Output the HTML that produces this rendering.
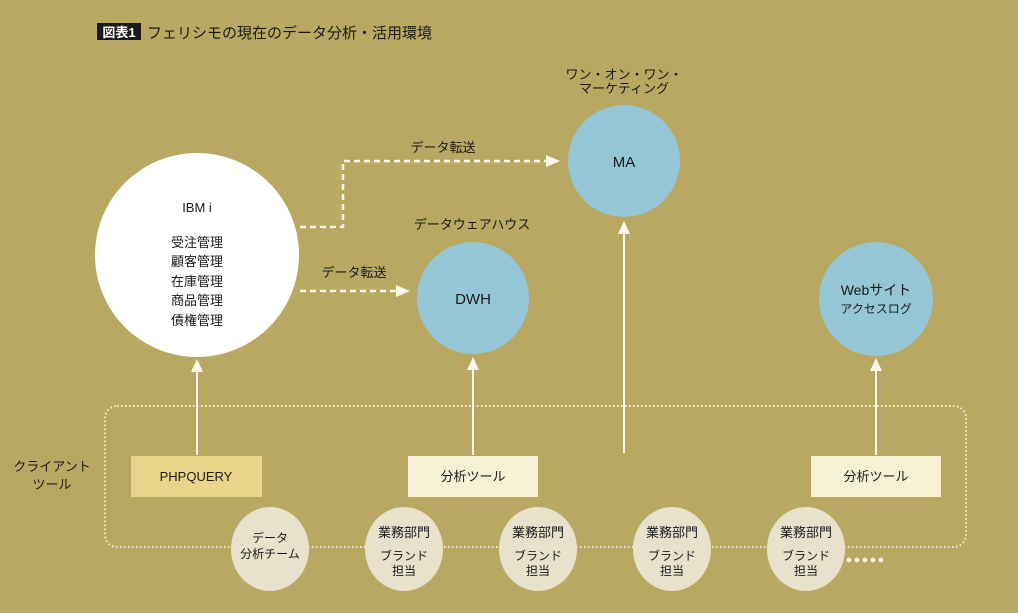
<!DOCTYPE html>
<html><head><meta charset="utf-8"><style>
html,body{margin:0;padding:0;background:#b8a862;}
svg{display:block;font-family:"Liberation Sans","Noto Sans CJK JP",sans-serif;}
</style></head><body>
<svg width="1018" height="613" viewBox="0 0 1018 613" xmlns="http://www.w3.org/2000/svg">
<rect width="1018" height="613" fill="#b8a862"/>
<!-- title -->
<rect x="97" y="23" width="44" height="17" fill="#1a1a1a"/>
<text x="119" y="37" font-size="13" fill="#fff" text-anchor="middle" font-weight="bold">図表1</text>
<text x="147" y="38" font-size="15" fill="#1a1a1a">フェリシモの現在のデータ分析・活用環境</text>

<!-- dotted client area -->
<rect x="105" y="406" width="861" height="141" rx="12" fill="none" stroke="#f4efdc" stroke-width="2" stroke-dasharray="1.5 2.5"/>

<!-- vertical arrows -->
<g stroke="#fbf8ec" stroke-width="2" fill="#fbf8ec">
<line x1="197" y1="455" x2="197" y2="368"/><polygon points="191,372 203,372 197,359" stroke="none"/>
<line x1="473" y1="455" x2="473" y2="366"/><polygon points="467,370 479,370 473,357" stroke="none"/>
<line x1="624" y1="453" x2="624" y2="230"/><polygon points="618,234 630,234 624,221" stroke="none"/>
<line x1="876" y1="455" x2="876" y2="367"/><polygon points="870,371 882,371 876,358" stroke="none"/>
</g>

<!-- dashed arrows -->
<g stroke="#fbf8ec" stroke-width="2.5" fill="none" stroke-dasharray="6 4">
<polyline points="300,227 343,227 343,161 546,161"/>
<line x1="300" y1="291" x2="397" y2="291"/>
</g>
<polygon points="546,155 560,161 546,167" fill="#fbf8ec"/>
<polygon points="396,285 410,291 396,297" fill="#fbf8ec"/>
<text x="443" y="152" font-size="13" fill="#1a1a1a" text-anchor="middle">データ転送</text>
<text x="354" y="277" font-size="13" fill="#1a1a1a" text-anchor="middle">データ転送</text>

<!-- IBM i -->
<circle cx="197" cy="255" r="102" fill="#ffffff"/>
<g font-size="13" fill="#1a1a1a" text-anchor="middle">
<text x="197" y="212">IBM i</text>
<text x="197" y="247">受注管理</text>
<text x="197" y="266">顧客管理</text>
<text x="197" y="286">在庫管理</text>
<text x="197" y="305">商品管理</text>
<text x="197" y="325">債権管理</text>
</g>

<!-- MA -->
<circle cx="624" cy="161" r="56" fill="#94c6d6"/>
<text x="624" y="167" font-size="15" fill="#1a1a1a" text-anchor="middle">MA</text>
<text x="624" y="79" font-size="13" fill="#1a1a1a" text-anchor="middle">ワン・オン・ワン・</text>
<text x="624" y="93" font-size="13" fill="#1a1a1a" text-anchor="middle">マーケティング</text>

<!-- DWH -->
<circle cx="473" cy="298" r="56" fill="#94c6d6"/>
<text x="473" y="304" font-size="15" fill="#1a1a1a" text-anchor="middle">DWH</text>
<text x="472" y="229" font-size="13" fill="#1a1a1a" text-anchor="middle">データウェアハウス</text>

<!-- Web -->
<circle cx="876" cy="299" r="57" fill="#94c6d6"/>
<text x="876" y="295" font-size="14" fill="#1a1a1a" text-anchor="middle">Webサイト</text>
<text x="876" y="313" font-size="12" fill="#1a1a1a" text-anchor="middle">アクセスログ</text>

<!-- client label -->
<text x="52" y="471" font-size="13" fill="#1a1a1a" text-anchor="middle">クライアント</text>
<text x="52" y="489" font-size="13" fill="#1a1a1a" text-anchor="middle">ツール</text>

<!-- tool boxes -->
<rect x="131" y="456" width="131" height="41" fill="#e9d48a"/>
<text x="196" y="481" font-size="13" fill="#1a1a1a" text-anchor="middle">PHPQUERY</text>
<rect x="408" y="456" width="130" height="41" fill="#f8f0d4"/>
<text x="473" y="481" font-size="13" fill="#1a1a1a" text-anchor="middle">分析ツール</text>
<rect x="811" y="456" width="130" height="41" fill="#f8f0d4"/>
<text x="876" y="481" font-size="13" fill="#1a1a1a" text-anchor="middle">分析ツール</text>

<!-- team ellipses -->
<g fill="#e8e2cc">
<ellipse cx="270" cy="549" rx="39" ry="42"/>
<ellipse cx="404" cy="549" rx="39" ry="42"/>
<ellipse cx="538" cy="549" rx="39" ry="42"/>
<ellipse cx="672" cy="549" rx="39" ry="42"/>
<ellipse cx="806" cy="549" rx="39" ry="42"/>
</g>
<g font-size="12" fill="#1a1a1a" text-anchor="middle">
<text x="270" y="542">データ</text>
<text x="270" y="558">分析チーム</text>
<text x="404" y="537" font-size="13">業務部門</text><text x="404" y="560">ブランド</text><text x="404" y="575">担当</text>
<text x="538" y="537" font-size="13">業務部門</text><text x="538" y="560">ブランド</text><text x="538" y="575">担当</text>
<text x="672" y="537" font-size="13">業務部門</text><text x="672" y="560">ブランド</text><text x="672" y="575">担当</text>
<text x="806" y="537" font-size="13">業務部門</text><text x="806" y="560">ブランド</text><text x="806" y="575">担当</text>
</g>
<g fill="#f4efdc">
<circle cx="849" cy="560" r="2.5"/><circle cx="857" cy="560" r="2.5"/><circle cx="865" cy="560" r="2.5"/><circle cx="873" cy="560" r="2.5"/><circle cx="881" cy="560" r="2.5"/>
</g>
</svg>
</body></html>
